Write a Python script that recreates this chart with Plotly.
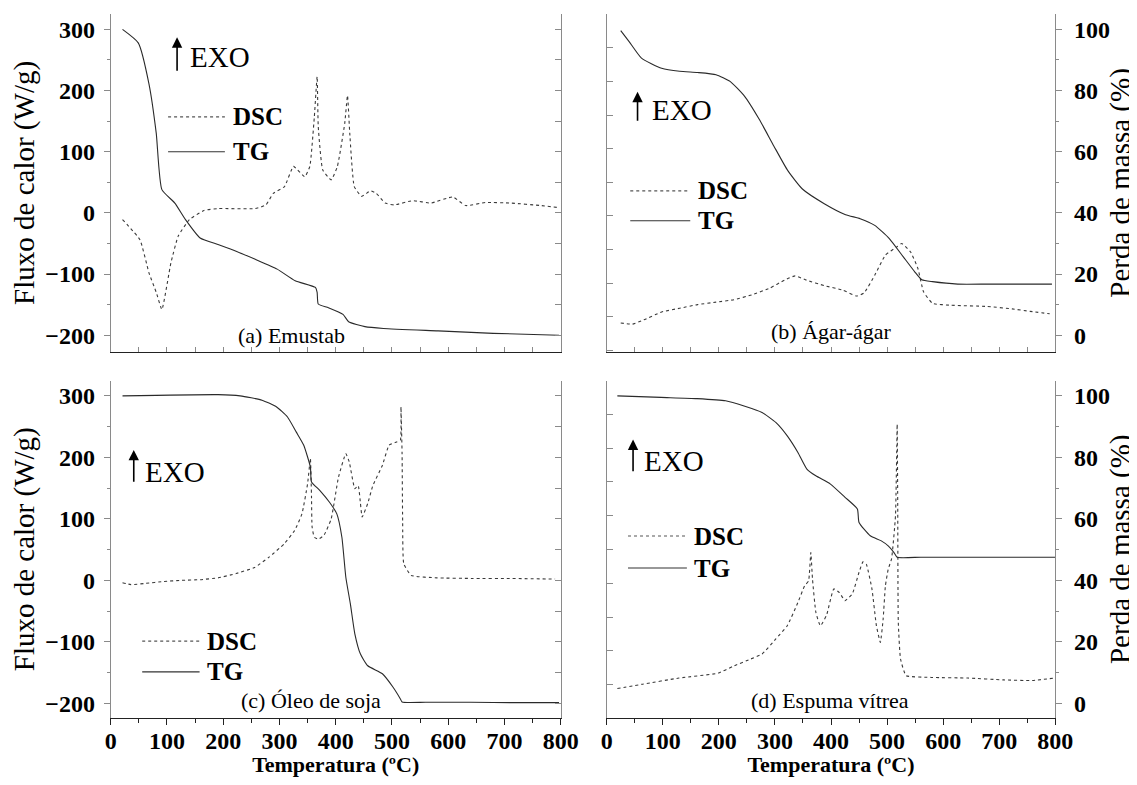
import plotly.graph_objects as go

# ---------------- data ----------------
# (a) Emustab
a_tg_T = [21, 49, 68, 81, 91, 114, 133, 159, 192, 224, 257, 296, 328, 364, 367, 369, 387, 413, 423, 452, 485, 582, 680, 797]
a_tg_P = [100, 95.6, 82.2, 66, 47.6, 43.2, 37.8, 31.8, 29.6, 27.4, 24.8, 21.6, 17.8, 15.6, 14, 10.2, 9, 6.8, 4.4, 2.8, 2.2, 1.4, 0.6, 0]
a_dsc_T = [21, 52, 68, 81, 91, 107, 120, 140, 166, 192, 257, 276, 289, 309, 325, 345, 354, 362, 367, 369, 377, 392, 403, 416, 421, 425, 433, 446, 462, 472, 488, 504, 537, 569, 608, 631, 667, 712, 764, 793]
a_dsc_W = [-11, -44, -98, -130, -158, -82, -38, -11, 4, 7, 7, 13, 32, 43, 76, 59, 76, 157, 223, 141, 70, 54, 76, 146, 192, 130, 43, 27, 36, 32, 16, 13, 20, 16, 26, 12, 17, 16, 12, 9]

# (b) Agar-agar
b_tg_T = [25, 40, 62, 98, 130, 162, 195, 220, 246, 272, 298, 323, 349, 388, 426, 452, 478, 504, 529, 549, 562, 581, 626, 680, 740, 794]
b_tg_P = [99.6, 96, 90.6, 87.3, 86.3, 85.9, 85.2, 83, 78.1, 70.6, 61.9, 53.8, 47.8, 43, 39.4, 38.1, 35.9, 31.6, 25.6, 20.8, 18.1, 17.5, 16.7, 16.7, 16.7, 16.7]
b_dsc_T = [25, 46, 66, 98, 130, 162, 195, 227, 259, 291, 317, 336, 356, 388, 420, 446, 459, 478, 497, 517, 526, 542, 555, 565, 581, 613, 678, 723, 755, 790]
b_dsc_W = [-180, -182, -175, -162, -156, -150, -146, -142, -134, -123, -110, -103, -110, -119, -126, -136, -131, -102, -69, -56, -50, -64, -91, -129, -148, -151, -153, -157, -161, -165]

# (c) Oleo de soja
c_tg_T = [21, 191, 230, 269, 295, 314, 330, 343, 355, 357, 372, 389, 402, 411, 418, 426, 434, 444, 457, 483, 502, 515, 518, 560, 640, 720, 797]
c_tg_P = [100, 100.4, 100, 98.6, 96.4, 93.2, 88.2, 84, 76.8, 72, 69.2, 65.4, 61.6, 54, 41, 32.4, 22.6, 16, 12.2, 9.6, 5.2, 1.4, 0.4, 0.3, 0.3, 0.2, 0.2]
c_dsc_T = [21, 36, 62, 94, 126, 159, 191, 223, 256, 282, 308, 327, 340, 350, 355, 357, 358, 362, 369, 379, 392, 405, 418, 424, 434, 440, 444, 447, 457, 466, 483, 495, 508, 515, 516, 518, 519, 521, 534, 580, 644, 709, 790]
c_dsc_W = [-4, -7, -5, -2, 0, 1, 4, 11, 21, 38, 59, 81, 108, 157, 198, 135, 87, 70, 67, 73, 100, 168, 206, 193, 149, 154, 125, 103, 125, 154, 187, 220, 225, 228, 282, 206, 97, 27, 8, 4, 3, 3, 2]

# (d) Espuma vitrea
d_tg_T = [19, 97, 161, 212, 245, 277, 302, 322, 341, 357, 373, 399, 425, 447, 450, 470, 489, 502, 512, 518, 560, 640, 720, 800]
d_tg_P = [100, 99.5, 99.1, 98.4, 96.7, 94.6, 91.3, 87, 81.6, 76.2, 74, 71.3, 67, 63.2, 58.8, 54.5, 52.9, 51.2, 49.1, 47.5, 47.5, 47.5, 47.5, 47.5]
d_dsc_T = [19, 64, 129, 199, 225, 257, 277, 302, 322, 341, 353, 360, 364, 367, 373, 381, 392, 405, 415, 425, 438, 450, 457, 463, 473, 481, 488, 493, 497, 502, 508, 515, 518, 519, 520, 524, 534, 579, 644, 708, 759, 798]
d_dsc_W = [-176, -169, -159, -151, -140, -128, -120, -95, -74, -36, -9, -1, 45, 2, -52, -74, -57, -14, -20, -33, -22, 13, 30, 26, -14, -74, -101, -63, -9, 18, 35, 105, 254, 121, -68, -128, -155, -158, -159, -162, -163, -159]

panel_labels = ["(a) Emustab", "(b) Ágar-ágar", "(c) Óleo de soja", "(d) Espuma vítrea"]

# ---------------- layout geometry ----------------
# the page body has an 8 px margin, so the figure is placed and sized to fit inside it
OX, OY = 8, 8
W, H = 1129, 769
SERIF = "Liberation Serif"


def fx(px):
    return (px - OX) / W


def fy(py):
    return 1 - (py - OY) / H


xdom_left = [fx(110.7), fx(560.7)]
xdom_right = [fx(606.7), fx(1055.3)]
ydom_top = [fy(352.3), fy(13.5)]
ydom_bot = [fy(718), fy(380.5)]
wrange_top = [-228, 326]
wrange_bot = [-224, 325]
prange_top = [(v + 200) / 5 for v in wrange_top]
prange_bot = [(v + 200) / 5 for v in wrange_bot]

AXC = "#8a8a8a"
BOTC = "#222222"
TICKFONT = dict(family=SERIF, size=24, color="black", weight="bold")
TITLEFONT = dict(family=SERIF, size=29, color="black")

fig = go.Figure()

panels = [
    ("x", "y", "y2", a_dsc_T, a_dsc_W, a_tg_T, a_tg_P),
    ("x2", "y3", "y4", b_dsc_T, b_dsc_W, b_tg_T, b_tg_P),
    ("x3", "y5", "y6", c_dsc_T, c_dsc_W, c_tg_T, c_tg_P),
    ("x4", "y7", "y8", d_dsc_T, d_dsc_W, d_tg_T, d_tg_P),
]

for xa, yl, yr, dT, dW, tT, tP in panels:
    fig.add_trace(go.Scatter(x=dT, y=dW, xaxis=xa, yaxis=yl, mode="lines", name="DSC",
                             line=dict(color="#3a3a3a", width=1.1, dash="dot", shape="spline", smoothing=0.4),
                             showlegend=False))
    fig.add_trace(go.Scatter(x=tT, y=tP, xaxis=xa, yaxis=yr, mode="lines", name="TG",
                             line=dict(color="#2a2a2a", width=1.1, shape="spline", smoothing=0.5),
                             showlegend=False))


def xbottom(domain, anchor, labels):
    d = dict(domain=domain, anchor=anchor, range=[0, 800], showgrid=False, zeroline=False,
             automargin=False, showline=True, linecolor=BOTC, linewidth=1)
    if labels:
        d.update(ticks="outside", ticklen=6, tickwidth=1, tickcolor=BOTC, dtick=100, tick0=0,
                 minor=dict(ticks="outside", ticklen=4, dtick=50, tickcolor=BOTC),
                 showticklabels=True, tickfont=TICKFONT, ticklabelstandoff=-5,
                 title=dict(text="<b>Temperatura (ºC)</b>", font=dict(family=SERIF, size=22, color="black"),
                            standoff=9))
    else:
        d.update(ticks="inside", ticklen=5, tickcolor=AXC, dtick=50, tick0=0, showticklabels=False)
    return d


def xtop(overlay, anchor):
    return dict(overlaying=overlay, anchor=anchor, side="top", range=[0, 800], showgrid=False,
                zeroline=False, automargin=False, showline=True, linecolor="#555555", linewidth=1,
                ticks="inside", ticklen=5, tickcolor="#555555", dtick=50, tick0=0, showticklabels=False)


def yleft(domain, anchor, rng, labels):
    d = dict(domain=domain, anchor=anchor, range=rng, showgrid=False, zeroline=False, automargin=False,
             showline=True, linecolor=AXC, linewidth=1, side="left")
    if labels:
        d.update(ticks="outside", ticklen=6, tickcolor=AXC, dtick=100, tick0=0,
                 minor=dict(ticks="outside", ticklen=3, dtick=50, tickcolor=AXC),
                 tickfont=TICKFONT, ticklabelstandoff=4,
                 title=dict(text="Fluxo de calor (W/g)", font=TITLEFONT, standoff=5))
    else:
        d.update(ticks="inside", ticklen=6, tickcolor=AXC, dtick=55, tick0=-170, showticklabels=False)
    return d


def yright(overlay, anchor, rng, labels):
    d = dict(overlaying=overlay, anchor=anchor, side="right", range=rng, showgrid=False,
             zeroline=False, automargin=False, showline=True, linecolor=AXC, linewidth=1)
    if labels:
        d.update(ticks="outside", ticklen=6, tickcolor=AXC, dtick=20, tick0=0,
                 minor=dict(ticks="outside", ticklen=3, dtick=10, tickcolor=AXC),
                 tickfont=TICKFONT, ticklabelstandoff=7,
                 title=dict(text="Perda de massa (%)", font=TITLEFONT, standoff=12))
    else:
        d.update(ticks="inside", ticklen=6, tickcolor=AXC, dtick=10, tick0=0, showticklabels=False)
    return d


fig.update_layout(
    template="none",
    width=W, height=H, margin=dict(l=0, r=0, t=0, b=0, autoexpand=False),
    paper_bgcolor="white", plot_bgcolor="white",
    font=dict(family=SERIF, color="black"),
    xaxis=xbottom(xdom_left, "y", False),
    xaxis2=xbottom(xdom_right, "y3", False),
    xaxis3=xbottom(xdom_left, "y5", True),
    xaxis4=xbottom(xdom_right, "y7", True),
    xaxis5=xtop("x", "y"),
    xaxis6=xtop("x2", "y3"),
    xaxis7=xtop("x3", "y5"),
    xaxis8=xtop("x4", "y7"),
    yaxis=yleft(ydom_top, "x", wrange_top, True),
    yaxis2=yright("y", "x", prange_top, False),
    yaxis3=yleft(ydom_top, "x2", wrange_top, False),
    yaxis4=yright("y3", "x2", prange_top, True),
    yaxis5=yleft(ydom_bot, "x3", wrange_bot, True),
    yaxis6=yright("y5", "x3", prange_bot, False),
    yaxis7=yleft(ydom_bot, "x4", wrange_bot, False),
    yaxis8=yright("y7", "x4", prange_bot, True),
)

# EXO arrows, legend-like keys and panel labels, placed in each panel's own axes
deco = [
    # xa, ya, arrow x, head y, tail y, exo x, exo y, key x0, key x1, dsc y, tg y, key text x, label x, label y
    ("x", "y", 118, 287, 230, 195, 255, 102, 203, 157, 100, 214, 322, -200),
    ("x2", "y3", 55, 198, 148, 135, 169, 42, 149, 36, -13, 159, 400, -194),
    ("x3", "y5", 41, 212, 158, 114, 176, 56, 158, -99, -149, 168, 356, -195),
    ("x4", "y7", 47, 229, 175, 120, 194, 38, 143, 72, 20, 152, 399, -195),
]
for i, (xa, ya, axx, hy, ty, ex, ey, lx0, lx1, dy, ty2, tx, lbx, lby) in enumerate(deco):
    fig.add_annotation(x=axx, y=hy, ax=axx, ay=ty, xref=xa, yref=ya, axref=xa, ayref=ya,
                       text="", showarrow=True, arrowhead=2, arrowsize=1.3, arrowwidth=1.6,
                       arrowcolor="black")
    fig.add_annotation(x=ex, y=ey, xref=xa, yref=ya, text="EXO", showarrow=False,
                       font=dict(family=SERIF, size=29, color="black"), xanchor="center", yanchor="middle")
    fig.add_shape(type="line", x0=lx0, x1=lx1, y0=dy, y1=dy, xref=xa, yref=ya,
                  line=dict(color="#555555", width=1.1, dash="dot"))
    fig.add_shape(type="line", x0=lx0, x1=lx1, y0=ty2, y1=ty2, xref=xa, yref=ya,
                  line=dict(color="#333333", width=1.1))
    fig.add_annotation(x=tx, y=dy, xref=xa, yref=ya, text="<b>DSC</b>", showarrow=False,
                       font=dict(family=SERIF, size=25, color="black"), xanchor="left", yanchor="middle")
    fig.add_annotation(x=tx, y=ty2, xref=xa, yref=ya, text="<b>TG</b>", showarrow=False,
                       font=dict(family=SERIF, size=25, color="black"), xanchor="left", yanchor="middle")
    fig.add_annotation(x=lbx, y=lby, xref=xa, yref=ya, text=panel_labels[i], showarrow=False,
                       font=dict(family=SERIF, size=22, color="black"), xanchor="center", yanchor="middle")

fig.write_html("out.html")
